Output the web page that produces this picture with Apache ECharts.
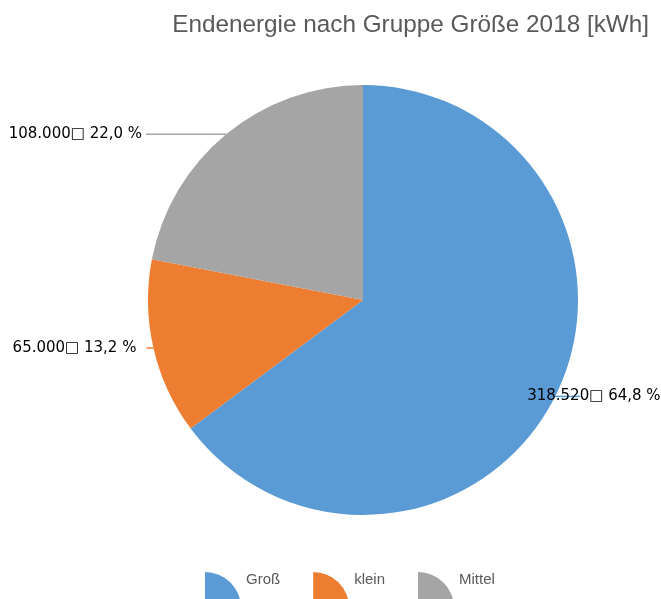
<!DOCTYPE html>
<html>
<head>
<meta charset="utf-8">
<script src="https://cdn.jsdelivr.net/npm/echarts@6/dist/echarts.min.js"></script>
<style>html,body{margin:0;padding:0;background:#fff;}#c{width:661px;height:599px;}</style>
</head>
<body>
<div id="c"></div>
<script>
const titleText = 'Endenergie nach Gruppe Größe 2018 [kWh]';
const categories = ['Groß', 'klein', 'Mittel'];
const values = [318520, 65000, 108000];
const valueLabels = ['318.520', '65.000', '108.000'];
const percentLabels = ['64,8 %', '13,2 %', '22,0 %'];
const colors = ['#5B9BD5', '#ED7D31', '#A5A5A5'];

const labelCfg = [
  { length: 0, length2: 25, dist: -53 },
  { length: 0, length2: 7, dist: 10 },
  { length: 0, length2: 80, dist: 4 }
];

const chart = echarts.init(document.getElementById('c'), null, { renderer: 'canvas' });
const quarter = 'path://M0,-20 M0,0 A36,36 0 0 1 36,36 L0,36 Z';

chart.setOption({
  animation: false,
  color: colors,
  title: {
    text: titleText,
    right: 7,
    top: 8,
    textStyle: { color: '#595959', fontSize: 24.3, fontWeight: 'normal', fontFamily: 'Liberation Sans' }
  },
  legend: {
    left: 205,
    top: 552,
    padding: 0,
    itemWidth: 36,
    itemHeight: 56,
    itemGap: 33,
    icon: quarter,
    textStyle: { color: '#595959', fontSize: 15, fontFamily: 'Liberation Sans' },
    data: categories
  },
  series: [{
    type: 'pie',
    center: [363, 300],
    radius: [0, 215],
    startAngle: 90,
    clockwise: true,
    avoidLabelOverlap: false,
    data: categories.map((c, i) => ({
      name: c,
      value: values[i],
      label: { distanceToLabelLine: labelCfg[i].dist },
      labelLine: { length: labelCfg[i].length, length2: labelCfg[i].length2 }
    })),
    label: {
      show: true,
      position: 'outside',
      bleedMargin: 0,
      overflow: 'none',
      color: '#000',
      fontSize: 15,
      fontFamily: 'DejaVu Sans',
      formatter: p => valueLabels[p.dataIndex] + '\u25A1 ' + percentLabels[p.dataIndex]
    },
    labelLine: { show: true, smooth: false, lineStyle: { width: 1.5 } },
    itemStyle: { borderWidth: 0 },
    emphasis: { disabled: true }
  }]
});
</script>
</body>
</html>
